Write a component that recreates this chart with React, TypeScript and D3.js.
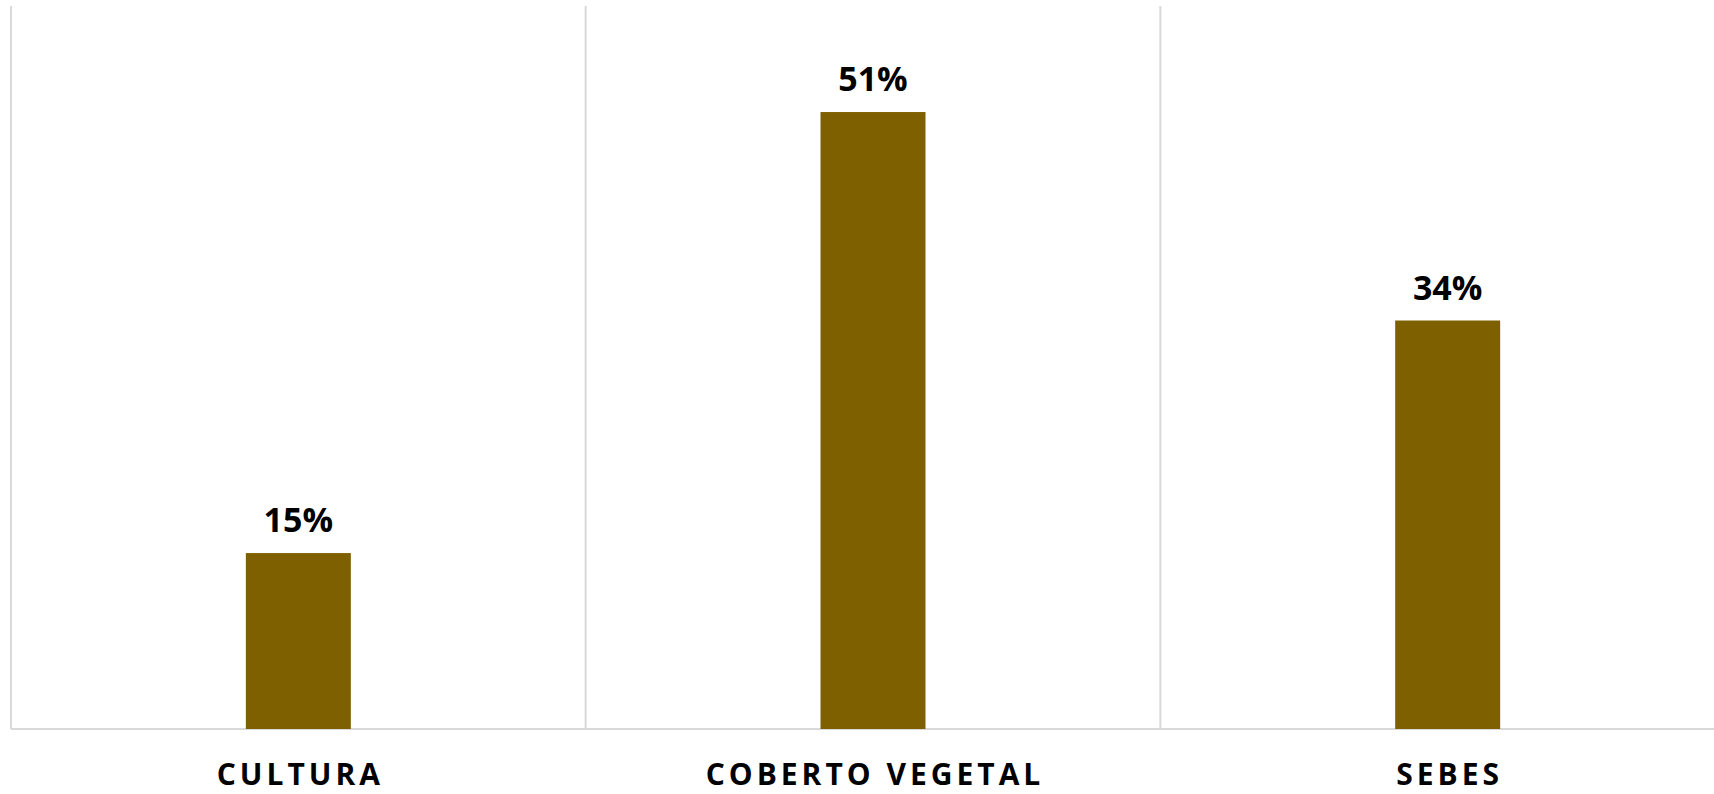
import React from "react";
import * as d3 from "d3";

const categories = ["CULTURA", "COBERTO VEGETAL", "SEBES"];
const values = [0.146, 0.512, 0.339];
const valueLabels = ["15%", "51%", "34%"];

const W = 1714;
const H = 794;
const left = 11;
const plotRight = 1735;
const top = 6;
const baseline = 729;

export default function App() {
  const x = d3.scaleBand<string>().domain(categories).range([left, plotRight]).paddingInner(0).paddingOuter(0);
  const y = d3.scaleLinear().domain([0, 0.6]).range([baseline, top]);
  const bw = 105;
  const grid = "#d9d9d9";
  return (
    <div style={{ position: "absolute", left: 0, top: 0 }}>
      <svg width={W} height={H} style={{ display: "block", background: "#fff" }}>
        {categories.map((c, i) => (
          <line key={"v" + i} x1={x(c)!} x2={x(c)!} y1={top} y2={baseline} stroke={grid} strokeWidth={2} />
        ))}
        <line x1={left} x2={plotRight} y1={baseline} y2={baseline} stroke={grid} strokeWidth={2} />
        {categories.map((c, i) => {
          const cx = x(c)! + x.bandwidth() / 2;
          return (
            <g key={c}>
              <rect x={cx - bw / 2} y={y(values[i])} width={bw} height={baseline - y(values[i])} fill="#7f6000" />
              <text
                x={cx}
                y={y(values[i]) - 21}
                textAnchor="middle"
                fontFamily="'Open Sans', sans-serif"
                fontWeight={700}
                fontSize={34}
                fill="#000"
              >
                {valueLabels[i]}
              </text>
              <text
                x={cx + 2}
                y={785}
                textAnchor="middle"
                fontFamily="'Open Sans', sans-serif"
                fontWeight={700}
                fontSize={30}
                letterSpacing={4}
                fill="#000"
              >
                {c}
              </text>
            </g>
          );
        })}
      </svg>
    </div>
  );
}
